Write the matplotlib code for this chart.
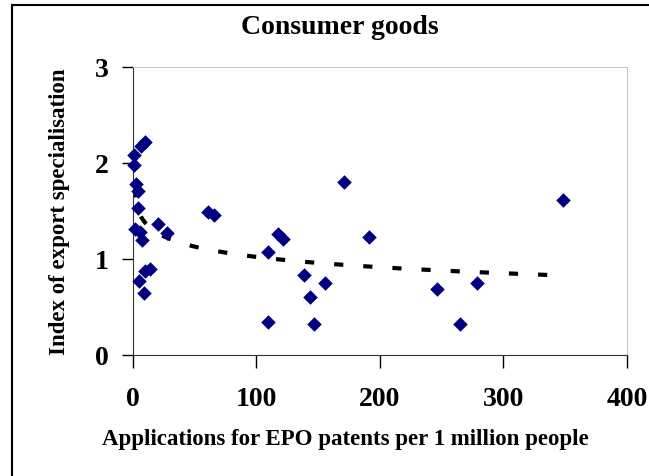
import numpy as np
import matplotlib.pyplot as plt
from matplotlib.lines import Line2D

patents = [6.5, 9.9, 1.0, 1.0, 2.7, 4.5, 4.5, 1.9, 5.9, 7.3, 9.9, 14.0,
           5.3, 9.1, 20.6, 27.4, 61.0, 65.6, 109.4, 109.4, 117.4, 121.5,
           139.0, 143.8, 147.0, 155.6, 171.2, 191.4, 246.5, 264.5, 278.7, 348.0]
index = [2.18, 2.22, 2.08, 1.98, 1.78, 1.71, 1.53, 1.31, 1.28, 1.20, 0.88, 0.90,
         0.77, 0.645, 1.365, 1.27, 1.487, 1.46, 1.07, 0.345, 1.26, 1.21,
         0.83, 0.61, 0.32, 0.755, 1.80, 1.23, 0.69, 0.32, 0.755, 1.617]

xticks = [0, 100, 200, 300, 400]
yticks = [0, 1, 2, 3]

plt.rcParams['font.family'] = ['Liberation Serif', 'DejaVu Serif']
plt.rcParams['font.weight'] = 'bold'

fig = plt.figure(figsize=(6.49, 4.76), dpi=100)
ax = fig.add_axes([0.2045, 0.254, 0.7615, 0.605])

x = np.array(patents)
y = np.array(index)

# logarithmic trend line, as in the spreadsheet
b, a = np.polyfit(np.log(x), y, 1)
xt = np.linspace(x.min(), x.max(), 300)
ax.plot(xt, a + b*np.log(xt), color="black", lw=3, dashes=(2.2, 4.8))

ax.scatter(x, y, marker="D", s=55, color="#000080", zorder=3, linewidths=0, clip_on=False)

ax.set_xlim(0, 400)
ax.set_ylim(0, 3)
ax.set_xticks(xticks)
ax.set_yticks(yticks)
ax.tick_params(axis="x", direction="out", length=9, width=1, pad=14, labelsize=20)
ax.tick_params(axis="y", direction="out", length=8, width=1, pad=9, labelsize=20)

for s in ["left", "bottom"]:
    ax.spines[s].set_color("#333333")
for s in ["top", "right"]:
    ax.spines[s].set_color("#c4c4c4")
    ax.spines[s].set_linewidth(0.7)

fig.text(340/649, 1 - 28/476, "Consumer goods", fontsize=20, fontweight="bold",
         ha="center", va="center")
fig.text(345/649, 1 - 440/476, "Applications for EPO patents per 1 million people",
         fontsize=16.5, fontweight="bold", ha="center", va="center")
fig.text(60/649, 1 - 212/476, "Index of export specialisation", fontsize=16.5,
         fontweight="bold", ha="center", va="center", rotation=90)

# outer chart border
fig.add_artist(Line2D([11.7/649, 11.7/649], [0, 1 - 5.4/476], transform=fig.transFigure, color="black", lw=1.5))
fig.add_artist(Line2D([11.7/649, 1], [1 - 5.4/476, 1 - 5.4/476], transform=fig.transFigure, color="black", lw=1.5))

fig.savefig("out.png", dpi=100)
